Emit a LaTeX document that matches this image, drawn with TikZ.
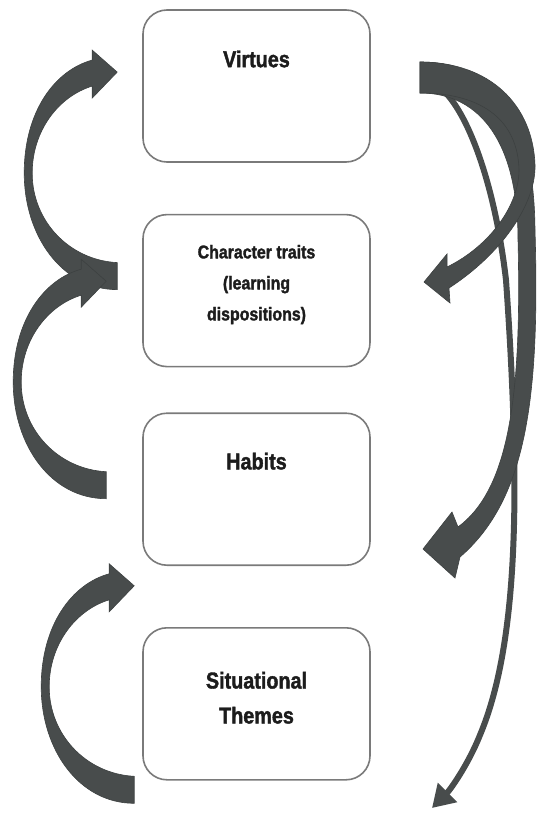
\documentclass[tikz,border=0pt]{standalone}
\usepackage{fontspec}
\setmainfont{Liberation Sans}[FakeStretch=0.86,BoldFeatures={FakeBold=1.6}]
\usetikzlibrary{positioning,arrows.meta}
\definecolor{boxgray}{HTML}{7A7A7A}
\definecolor{arrowgray}{HTML}{484C4C}
\definecolor{inkblack}{HTML}{1C1C1C}

\tikzset{
  stage/.style={draw=boxgray,line width=1.6pt,rounded corners=24pt,
    minimum width=227pt,minimum height=152pt,fill=white},
  stagelabel/.style={text=inkblack,font=\bfseries\fontsize{23}{35}\selectfont,align=center},
  smalllabel/.style={text=inkblack,font=\bfseries\fontsize{18.5}{31}\selectfont,align=center},
  bendarrow/.style={fill=arrowgray,draw=arrowgray!85!black,line width=0.6pt},
  curlarrow/.pic={
    \path[bendarrow] (0,-13.5) .. controls (-48,-16) and (-85,-55) .. (-85,-103)
      .. controls (-85,-146) and (-58,-180) .. (-25,-190)
      -- (-25,-178) -- (0,-204) -- (-25,-226) -- (-25,-216)
      .. controls (-62,-206) and (-93,-165) .. (-93,-103)
      .. controls (-93,-40) and (-55,13.5) .. (0,13.5) -- cycle;
  }
}

\begin{document}
\begin{tikzpicture}[x=1pt,y=-1pt]
  \path[use as bounding box,fill=white] (0,0) rectangle (536,819);

  % the four stages
  \node[stage] (virtues) at (256.5,86) {};
  \node[stage,below=51pt of virtues] (traits) {};
  \node[stage,below=45pt of traits] (habits) {};
  \node[stage,below=61pt of habits] (themes) {};

  \node[stagelabel,anchor=base] (virtueslabel) at ([yshift=-58pt]virtues.north) {Virtues};
  \node[smalllabel] (traitslabel) at ([yshift=6pt]traits.center) {Character traits\\(learning\\dispositions)};
  \node[stagelabel,anchor=base] (habitslabel) at ([yshift=-57pt]habits.north) {Habits};
  \node[stagelabel] (themeslabel) at ([yshift=6pt]themes.center) {Situational\\Themes};

  % left side: each stage feeds the one above
  \coordinate (tailA) at ([xshift=-25pt,yshift=14.5pt]traits.west);
  \coordinate (tailB) at ([xshift=-36pt,yshift=4pt]habits.west);
  \coordinate (tailC) at ([xshift=-8pt,yshift=-86pt]themes.west);
  \pic (upA) at (tailA) {curlarrow};
  \pic (upB) at (tailB) {curlarrow};
  \pic (upC) at (tailC) {curlarrow};

  % right side: virtues fan out downwards
  \coordinate (fan) at ([xshift=50pt,yshift=8.5pt]virtues.east);
  \draw[arrowgray,line width=6pt,-{Triangle[length=22pt,width=26pt]}]
    (428,82) .. controls (455,85) and (492,160) .. (506,280)
    .. controls (520,480) and (520,640) .. (480,735)
    .. controls (468,765) and (450,790) .. (432,808);
  \path[bendarrow] (420,62) .. controls (495,62) and (534,115) .. (535,230)
    .. controls (540,400) and (526,500) .. (460,557)
    -- (455,578) -- (423,549) -- (452,512) -- (458,527)
    .. controls (508,490) and (522,400) .. (518,240)
    .. controls (518,145) and (482,93) .. (420,93) -- cycle;
  \path[bendarrow] (420,62) .. controls (490,62) and (533,105) .. (535,165)
    .. controls (536,205) and (500,255) .. (449,288)
    -- (450,303) -- (424,282) -- (447,254) -- (447,267)
    .. controls (490,246) and (519,205) .. (519,170)
    .. controls (518,122) and (484,93) .. (420,93) -- cycle;
\end{tikzpicture}
\end{document}
